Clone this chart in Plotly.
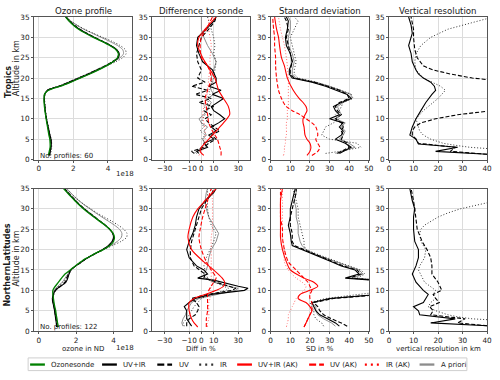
import plotly.graph_objects as go
from plotly.subplots import make_subplots

# ---------------- ozone profile (values in 1e18 ND) ----------------
z_o3 = [1, 2, 3, 4, 5, 6, 8, 10, 12, 14, 15, 16, 17, 17.5, 18, 19, 20, 21, 22, 23, 24, 25, 26, 27, 28, 29, 30, 31, 32, 33, 34, 35]

trop_o3_sonde = [0.55, 0.6, 0.65, 0.65, 0.63, 0.58, 0.5, 0.42, 0.35, 0.3, 0.3, 0.32, 0.55, 0.85, 1.25, 1.85, 2.4, 2.95, 3.45, 3.9, 4.3, 4.55, 4.6, 4.45, 4.1, 3.65, 3.15, 2.7, 2.3, 2.0, 1.75, 1.55]
trop_o3_uvir = [0.62, 0.66, 0.7, 0.72, 0.7, 0.64, 0.54, 0.44, 0.37, 0.32, 0.31, 0.33, 0.5, 0.8, 1.2, 1.8, 2.35, 2.9, 3.4, 3.9, 4.3, 4.6, 4.65, 4.5, 4.15, 3.7, 3.2, 2.75, 2.35, 2.02, 1.76, 1.55]
trop_o3_uv = [0.6, 0.64, 0.68, 0.7, 0.68, 0.62, 0.53, 0.44, 0.37, 0.33, 0.32, 0.34, 0.5, 0.78, 1.15, 1.75, 2.3, 2.85, 3.35, 3.85, 4.25, 4.55, 4.62, 4.5, 4.15, 3.72, 3.22, 2.78, 2.38, 2.05, 1.78, 1.57]
trop_o3_ir = [0.68, 0.72, 0.74, 0.74, 0.72, 0.65, 0.55, 0.45, 0.38, 0.34, 0.33, 0.36, 0.5, 0.8, 1.15, 1.7, 2.25, 2.8, 3.35, 3.9, 4.45, 4.85, 5.05, 5.0, 4.7, 4.25, 3.7, 3.15, 2.65, 2.2, 1.85, 1.6]
trop_o3_apr = [0.62, 0.66, 0.7, 0.7, 0.68, 0.62, 0.52, 0.43, 0.36, 0.32, 0.32, 0.35, 0.5, 0.8, 1.15, 1.7, 2.25, 2.8, 3.3, 3.8, 4.3, 4.7, 4.9, 4.85, 4.55, 4.1, 3.6, 3.1, 2.6, 2.2, 1.85, 1.6]

nh_o3_sonde = [1.05, 1.0, 0.97, 0.93, 0.9, 0.85, 0.78, 0.75, 1.05, 1.4, 1.68, 1.95, 2.25, 2.4, 2.6, 3.0, 3.45, 3.8, 4.0, 4.05, 3.98, 3.8, 3.55, 3.25, 2.95, 2.67, 2.4, 2.15, 1.93, 1.72, 1.52, 1.32]
nh_o3_uvir = [0.95, 0.93, 0.9, 0.87, 0.84, 0.8, 0.72, 0.88, 1.45, 1.62, 1.72, 1.98, 2.3, 2.45, 2.62, 3.0, 3.4, 3.72, 3.92, 4.0, 3.95, 3.78, 3.55, 3.27, 2.98, 2.7, 2.43, 2.18, 1.96, 1.75, 1.55, 1.36]
nh_o3_uv = [0.98, 0.95, 0.92, 0.88, 0.85, 0.81, 0.74, 0.9, 1.4, 1.58, 1.7, 1.98, 2.3, 2.45, 2.62, 3.0, 3.42, 3.75, 3.95, 4.02, 3.96, 3.8, 3.56, 3.28, 3.0, 2.72, 2.45, 2.2, 1.98, 1.77, 1.57, 1.38]
nh_o3_ir = [1.0, 0.97, 0.93, 0.9, 0.87, 0.83, 0.76, 0.85, 1.3, 1.6, 1.75, 1.98, 2.28, 2.45, 2.62, 3.05, 3.5, 3.95, 4.4, 4.7, 4.72, 4.55, 4.25, 3.9, 3.5, 3.12, 2.78, 2.45, 2.17, 1.92, 1.7, 1.5]
nh_o3_apr = [1.0, 0.97, 0.93, 0.9, 0.86, 0.82, 0.75, 0.82, 1.25, 1.55, 1.72, 1.95, 2.25, 2.42, 2.6, 3.0, 3.45, 3.85, 4.2, 4.42, 4.45, 4.32, 4.05, 3.72, 3.38, 3.05, 2.74, 2.43, 2.15, 1.9, 1.68, 1.47]

# ---------------- difference to sonde (%) ----------------
zd_t = [1.5, 2, 3, 4, 5, 6, 7, 8, 9, 10, 11, 12, 13, 14, 15, 16, 17, 18, 19, 20, 22, 24, 26, 28, 30, 32, 34, 35]
trop_d_uvir = [-2, -4, 5, 2, 10, 6, 12, 8, 14, 19, 15, 10, 8, 13, 18, 9, 16, 6, 12, 12, 9, 1, -2, -4, -3, 4, 10, 12]
trop_d_uv = [-6, -8, 2, 6, 12, 8, 15, 10, 6, 3, 8, 2, 10, -2, 8, -5, 5, -8, 3, -3, 0, -3, -4, -2, 0, 6, 11, 12]
trop_d_ir = [-4, -2, 2, 4, 0, 3, -1, 2, 0, 1, 3, 5, 2, 6, 4, 7, 6, 9, 8, 10, 11, 12, 10, 11, 10, 8, 6, 5]
trop_d_apr = [-6, -4, 0, 3, 1, 4, 2, 5, 0, -2, 2, 4, 6, 8, 5, 10, 8, 7, 9, 8, 10, 12, 9, 5, 2, 0, 0, 0]
zr_t = [1, 2, 3, 5, 7, 9, 11, 13, 15, 17, 20, 23, 25, 28, 30, 32, 35]
trop_d_uvir_ak = [2, -1, 0, 6, 12, 18, 23, 22, 18, 14, 11, 5, 1, -3, -2, 3, 12]
trop_d_uv_ak = [16, 16, 15, 13, 9, 6, 5, 4, 3, 5, 8, 5, 0, -1, 0, 4, 9]
trop_d_ir_ak = [-2, 0, 2, 3, 3, 2, 1, 2, 4, 5, 6, 7, 7, 8, 7, 6, 6]

zd_n = [1.2, 2, 3, 4, 5, 6, 7, 8, 9, 10, 10.5, 11, 12, 12.5, 13, 14, 15, 16, 18, 20, 22, 24, 26, 28, 30, 32, 34, 35]
nh_d_uvir = [-8, -10, -12, -12, -12, -14, -10, -5, 8, 35, 38, 30, 15, 10, -3, 5, 2, -4, -10, -12, -10, -7, -5, -4, -2, 3, 10, 12]
nh_d_uv = [-12, -12, -10, -5, -3, -2, -4, -8, 5, 25, 28, 22, 12, 8, 2, 3, -2, -6, -9, -9, -8, -6, -4, -2, 0, 4, 9, 10]
nh_d_ir = [-14, -15, -12, -10, -8, -6, -3, 0, 8, 20, 22, 18, 10, 7, 5, 4, 3, 2, 4, 7, 10, 12, 8, 6, 5, 5, 5, 5]
nh_d_apr = [-15, -16, -15, -13, -12, -10, -8, -2, 12, 28, 30, 22, 10, 6, 3, 2, 4, 5, 6, 8, 12, 14, 10, 6, 4, 3, 4, 5]
zr_n = [1, 2, 3, 5, 7, 8, 9, 10, 11, 12, 13, 15, 17, 20, 23, 25, 28, 30, 32, 35]
nh_d_uvir_ak = [-3, -6, -8, -10, -10, -6, 3, 12, 18, 19, 17, 10, 2, -8, -11, -10, -7, -3, 3, 12]
nh_d_uv_ak = [4, 4, 4, 5, 5, 5, 5, 6, 8, 10, 12, 8, 4, 0, -2, -1, 1, 3, 5, 8]
nh_d_ir_ak = [5, 5, 6, 6, 6, 7, 7, 7, 8, 8, 8, 8, 8, 8, 8, 9, 9, 9, 9, 8]

# ---------------- standard deviation (%) ----------------
zs_t = [1.5, 2, 3, 4, 5, 6, 7, 8, 9, 10, 11, 12, 13, 14, 15, 16, 17, 18, 19, 20, 21, 22, 24, 26, 28, 30, 32, 34, 35]
trop_s_uvir = [35, 37, 41, 38, 33, 36, 37, 35, 37, 30, 35, 33, 32, 36, 41, 39, 34, 28, 21, 11, 9.5, 9.5, 11, 10, 8, 7.5, 8.5, 9, 8]
trop_s_uv = [34, 36, 40, 39, 36, 37, 36, 37, 36, 33, 36, 34, 33, 35, 40, 39, 35, 29, 22, 12, 10, 10, 11, 10, 9, 8, 9, 8, 7]
trop_s_ir = [28, 35, 46, 44, 30, 26, 27, 28, 32, 35, 33, 35, 36, 37, 42, 41, 36, 30, 23, 14, 12, 12, 13, 12, 11, 10, 12, 14, 12]
trop_s_apr = [33, 36, 43, 40, 35, 37, 38, 36, 38, 33, 36, 35, 34, 37, 41, 41, 36, 30, 23, 13, 11, 11, 12, 11, 9, 9, 10, 10, 9]
zs3_t = [1, 2, 3, 4, 5, 6, 8, 9, 10, 11, 12, 13, 14, 15, 17, 20, 23, 25, 28, 30, 32, 35]
trop_s_uvir_ak = [18.5, 20, 20.5, 20, 18.5, 17.5, 17, 16.5, 16.5, 17.5, 18.5, 18, 16.5, 14.5, 11.5, 8.5, 7, 5.5, 4.5, 4, 3, 2]
trop_s_uv_ak = [21, 24, 25, 24, 23, 24, 23, 21, 18, 15, 11, 8, 6.5, 5.5, 4, 3, 2.5, 2.5, 2, 2, 1.5, 1]
trop_s_ir_ak = [6.5, 7, 7, 7.5, 7.5, 8, 8, 8, 8.5, 8.5, 8.5, 9, 9, 9, 9, 9, 8.5, 8, 7, 6, 5, 4]

zs_n = [1.2, 2, 3, 4, 5, 6, 7, 8, 9, 10, 11, 12, 12.5, 13, 14, 15, 16, 17, 18, 19, 20, 21, 22, 24, 26, 28, 30, 32, 34, 35]
nh_s_uvir = [35, 33, 29, 25, 23, 22, 21, 30, 55, 62, 62, 60, 52, 38, 45, 43, 36, 31, 26, 21, 16, 11, 10.5, 10, 9, 10, 10, 11, 12, 12.5]
nh_s_uv = [39, 36, 31, 27, 25, 24, 22, 32, 57, 62, 62, 60, 54, 40, 46, 44, 37, 32, 27, 22, 17, 12, 11, 11, 10, 10, 11, 12, 13, 13]
nh_s_ir = [27, 26, 23, 22, 22, 21, 20, 28, 50, 62, 62, 62, 56, 44, 48, 46, 40, 34, 28, 23, 18, 17, 17, 16, 15, 14, 14, 13, 12, 11]
nh_s_apr = [33, 31, 27, 24, 23, 23, 21, 31, 55, 62, 62, 62, 54, 42, 47, 45, 39, 33, 27, 22, 18, 16, 15, 14, 14, 13, 13, 12, 13, 13]
zs3_n = [1, 2, 3, 4, 5, 6, 7, 8, 9, 10, 11, 12, 13, 15, 17, 20, 23, 25, 28, 30, 32, 35]
nh_s_uvir_ak = [17, 18, 19, 20, 21, 20, 18, 14, 15, 20, 24, 22, 17, 10, 8, 6, 5, 5, 5, 5, 5, 6]
nh_s_uv_ak = [17, 18, 19, 20, 21, 21, 21, 20, 20, 21, 20, 19, 17, 13, 9, 7, 6, 6, 5, 5, 5, 5]
nh_s_ir_ak = [8, 8.5, 9, 9, 10, 11, 12, 13, 15, 17, 18, 16, 13, 9, 7, 7, 6, 6, 6, 6, 6, 6]

# ---------------- vertical resolution (km) ----------------
zv_t_uvir = [1.3, 2, 3, 3.8, 5, 5.5, 6, 8, 10, 12, 14, 16, 17, 18, 19, 20, 21, 22, 24, 26, 28, 31, 33, 35]
trop_v_uvir = [40, 19, 28, 12, 11, 9.5, 8.5, 9.5, 11, 13, 15, 17.5, 19, 18.5, 17, 14, 12, 11, 9.5, 9, 8, 9.5, 9, 8]
zv_t_uv = [1.3, 2, 3, 4, 5, 6, 7, 8, 9, 10, 11, 12, 19.5, 20, 21, 22, 23, 25, 27, 30, 32, 35]
trop_v_uv = [40, 25, 27, 12, 11, 9.5, 9.5, 10.5, 13, 19, 28, 42, 42, 34, 25, 18, 14, 11.5, 10.5, 10, 10, 9]
zv_t_ir = [2.7, 3, 3.5, 4, 5, 6, 7, 8, 10, 12, 15, 17, 18, 20, 22, 24, 26, 28, 30, 32, 34.6]
trop_v_ir = [40, 33, 27, 22, 17, 14, 12.5, 12, 11, 14, 20, 23, 21, 14, 11, 10.5, 11, 13, 17, 24, 40]

zv_n = [1.3, 2, 3, 4, 5, 6, 7, 8, 9, 10, 12, 14, 16, 18, 20, 22, 25, 28, 30, 32, 35]
nh_v_uvir = [40, 17, 27, 12.5, 12, 10, 14, 15, 16, 14, 11, 9.5, 11, 12, 12, 10.5, 10, 10, 10.5, 9.5, 8.5]
nh_v_uv = [40, 28, 31, 17, 18, 16.5, 20.5, 19, 18, 21.5, 20, 17.5, 17.5, 17, 15.5, 13.5, 11.5, 11, 10.5, 10, 9]
zv_n_ir = [2.8, 3, 3.5, 4, 5, 6, 7, 8, 9, 10, 12, 14, 15, 16, 18, 20, 22, 24, 25, 26, 27, 28, 29, 30, 31.5]
nh_v_ir = [40, 34, 28, 24, 19, 16, 17, 19, 18, 19, 14.5, 13, 12, 12.5, 14.5, 15, 13, 12.5, 13, 14.5, 17, 20, 24, 29, 40]

titles = ['Ozone profile', 'Difference to sonde', 'Standard deviation', 'Vertical resolution']
xtitles = ['ozone in ND', 'Diff in %', 'SD in %', 'vertical resolution in km']
regions = ['Tropics', 'NorthernLatitudes']
n_profiles = [60, 122]
legend_names = ['Ozonesonde', 'UV+IR', 'UV', 'IR', 'UV+IR (AK)', 'UV (AK)', 'IR (AK)', 'A priori']

styles = {
    'sonde': dict(color='green', width=1.3, dash='solid'),
    'uvir': dict(color='black', width=1.1, dash='solid'),
    'uv': dict(color='black', width=1.1, dash='4px,2px'),
    'ir': dict(color='#333333', width=1, dash='1px,2px'),
    'uvir_ak': dict(color='red', width=1.1, dash='solid'),
    'uv_ak': dict(color='red', width=1.1, dash='4px,2px'),
    'ir_ak': dict(color='#ff6f6f', width=1, dash='1px,2px'),
    'apr': dict(color='#8c8c8c', width=1, dash='solid'),
}
legend_keys = ['sonde', 'uvir', 'uv', 'ir', 'uvir_ak', 'uv_ak', 'ir_ak', 'apr']

fig = make_subplots(rows=2, cols=4)


def add_line(x, z, key, row, col, shape='linear'):
    fig.add_trace(go.Scatter(x=x, y=z, mode='lines', showlegend=False, hoverinfo='skip',
                             line=dict(**styles[key], shape=shape, smoothing=0.8)),
                  row=row, col=col)


# row 1 = tropics, row 2 = northern latitudes
for row, o3 in [(1, [trop_o3_apr, trop_o3_ir, trop_o3_uv, trop_o3_uvir, trop_o3_sonde]),
                (2, [nh_o3_apr, nh_o3_ir, nh_o3_uv, nh_o3_uvir, nh_o3_sonde])]:
    for vals, key in zip(o3, ['apr', 'ir', 'uv', 'uvir', 'sonde']):
        add_line(vals, z_o3, key, row, 1, 'spline')

add_line(trop_d_apr, zd_t, 'apr', 1, 2)
add_line(trop_d_ir, zd_t, 'ir', 1, 2)
add_line(trop_d_uv, zd_t, 'uv', 1, 2)
add_line(trop_d_uvir, zd_t, 'uvir', 1, 2)
add_line(trop_d_ir_ak, zr_t, 'ir_ak', 1, 2, 'spline')
add_line(trop_d_uv_ak, zr_t, 'uv_ak', 1, 2, 'spline')
add_line(trop_d_uvir_ak, zr_t, 'uvir_ak', 1, 2, 'spline')

add_line(nh_d_apr, zd_n, 'apr', 2, 2)
add_line(nh_d_ir, zd_n, 'ir', 2, 2)
add_line(nh_d_uv, zd_n, 'uv', 2, 2)
add_line(nh_d_uvir, zd_n, 'uvir', 2, 2)
add_line(nh_d_ir_ak, zr_n, 'ir_ak', 2, 2, 'spline')
add_line(nh_d_uv_ak, zr_n, 'uv_ak', 2, 2, 'spline')
add_line(nh_d_uvir_ak, zr_n, 'uvir_ak', 2, 2, 'spline')

add_line(trop_s_apr, zs_t, 'apr', 1, 3)
add_line(trop_s_ir, zs_t, 'ir', 1, 3)
add_line(trop_s_uv, zs_t, 'uv', 1, 3)
add_line(trop_s_uvir, zs_t, 'uvir', 1, 3)
add_line(trop_s_ir_ak, zs3_t, 'ir_ak', 1, 3, 'spline')
add_line(trop_s_uv_ak, zs3_t, 'uv_ak', 1, 3, 'spline')
add_line(trop_s_uvir_ak, zs3_t, 'uvir_ak', 1, 3, 'spline')

add_line(nh_s_apr, zs_n, 'apr', 2, 3)
add_line(nh_s_ir, zs_n, 'ir', 2, 3)
add_line(nh_s_uv, zs_n, 'uv', 2, 3)
add_line(nh_s_uvir, zs_n, 'uvir', 2, 3)
add_line(nh_s_ir_ak, zs3_n, 'ir_ak', 2, 3, 'spline')
add_line(nh_s_uv_ak, zs3_n, 'uv_ak', 2, 3, 'spline')
add_line(nh_s_uvir_ak, zs3_n, 'uvir_ak', 2, 3, 'spline')

add_line(trop_v_ir, zv_t_ir, 'ir', 1, 4)
add_line(trop_v_uv, zv_t_uv, 'uv', 1, 4)
add_line(trop_v_uvir, zv_t_uvir, 'uvir', 1, 4)
add_line(nh_v_ir, zv_n_ir, 'ir', 2, 4)
add_line(nh_v_uv, zv_n, 'uv', 2, 4)
add_line(nh_v_uvir, zv_n, 'uvir', 2, 4)

# ---------------- axes ----------------
W, H = 500, 380
lefts = [32.5, 152.5, 272.5, 392.5]
pw = 99.5
ydom = {1: [1 - 159.3 / H, 1 - 13.3 / H], 2: [1 - 335 / H, 1 - 189 / H]}
xranges = {(1, 1): [-0.28, 5.4], (2, 1): [-0.26, 5.0]}
col_range = {2: [-40, 40], 3: [0, 50], 4: [0, 40]}
col_ticks = {1: [0, 2, 4], 2: [-30, -10, 0, 10, 30], 3: [0, 10, 20, 30, 40, 50], 4: [0, 10, 20, 30, 40]}

ax = dict(showline=True, mirror=True, linecolor='#555555', linewidth=1, showgrid=True,
          gridcolor='#dcdcdc', gridwidth=1, zeroline=False, ticks='outside', ticklen=2,
          tickcolor='#555555', tickfont=dict(size=7.3, color='#222222'), tickangle=0)

for r in (1, 2):
    for c in (1, 2, 3, 4):
        rng = xranges[(r, c)] if c == 1 else col_range[c]
        fig.update_xaxes(domain=[lefts[c - 1] / W, (lefts[c - 1] + pw) / W], range=rng,
                         tickvals=col_ticks[c], row=r, col=c, **ax)
        fig.update_yaxes(domain=ydom[r], range=[0, 35], tickvals=list(range(0, 36, 5)),
                         row=r, col=c, **ax)

ann = []
for c in range(4):
    cx = (lefts[c] + pw / 2) / W
    ann.append(dict(text=titles[c], x=cx, y=1 - 7 / H, font=dict(size=8.6)))
    ann.append(dict(text=xtitles[c], x=cx, y=1 - 353 / H, font=dict(size=7)))
for y in (174, 352):
    ann.append(dict(text='1e18', x=125 / W, y=1 - y / H, font=dict(size=7)))
for r, yc, ylab in [(0, 80, 66), (1, 267, 261)]:
    ann.append(dict(text='<b>' + regions[r] + '</b>', x=6 / W, y=1 - yc / H, textangle=-90,
                    font=dict(size=8)))
    ann.append(dict(text='Altitude in km', x=15 / W, y=1 - ylab / H, textangle=-90,
                    font=dict(size=8)))
for r, yb in [(0, 155.5), (1, 331)]:
    ann.append(dict(text='No. profiles: %d' % n_profiles[r], x=37 / W, y=1 - yb / H,
                    xanchor='left', font=dict(size=7)))
for a in ann:
    a.setdefault('xanchor', 'center')
    a.update(xref='paper', yref='paper', yanchor='middle', showarrow=False)
    a['font'].setdefault('color', '#1a1a1a')

# ---------------- legend (drawn below the panels) ----------------
shapes = [dict(type='rect', xref='paper', yref='paper', x0=26.5 / W, x1=471.5 / W,
               y0=1 - 375.5 / H, y1=1 - 362.5 / H, line=dict(color='#cfcfcf', width=1),
               fillcolor='white', layer='below')]
line_x = [28.5, 101.5, 157.5, 200, 238.5, 311.5, 368, 423.5]
leg_dash = {'solid': 'solid', '4px,2px': '7px,3px', '1px,2px': '2px,4px'}
ly = 1 - 369.3 / H
for x0, key, name in zip(line_x, legend_keys, legend_names):
    st = styles[key]
    shapes.append(dict(type='line', xref='paper', yref='paper', x0=x0 / W, x1=(x0 + 15) / W,
                       y0=ly, y1=ly, line=dict(color=st['color'] if key != 'ir_ak' else 'red',
                                               width=2.3, dash=leg_dash[st['dash']])))
    ann.append(dict(text=name, x=(x0 + 19.5) / W, y=ly, xref='paper', yref='paper',
                    xanchor='left', yanchor='middle', showarrow=False,
                    font=dict(size=7, color='#1a1a1a')))

fig.update_layout(width=W, height=H, margin=dict(l=0, r=0, t=0, b=0), showlegend=False,
                  plot_bgcolor='white', paper_bgcolor='white',
                  font=dict(family='DejaVu Sans', color='#1a1a1a'),
                  annotations=ann, shapes=shapes)

# the page body has a default 8px margin; drop it so the figure sits at the window corner
fig.write_html("out.html", config={'displayModeBar': False},
               post_script="document.body.style.margin='0';")
